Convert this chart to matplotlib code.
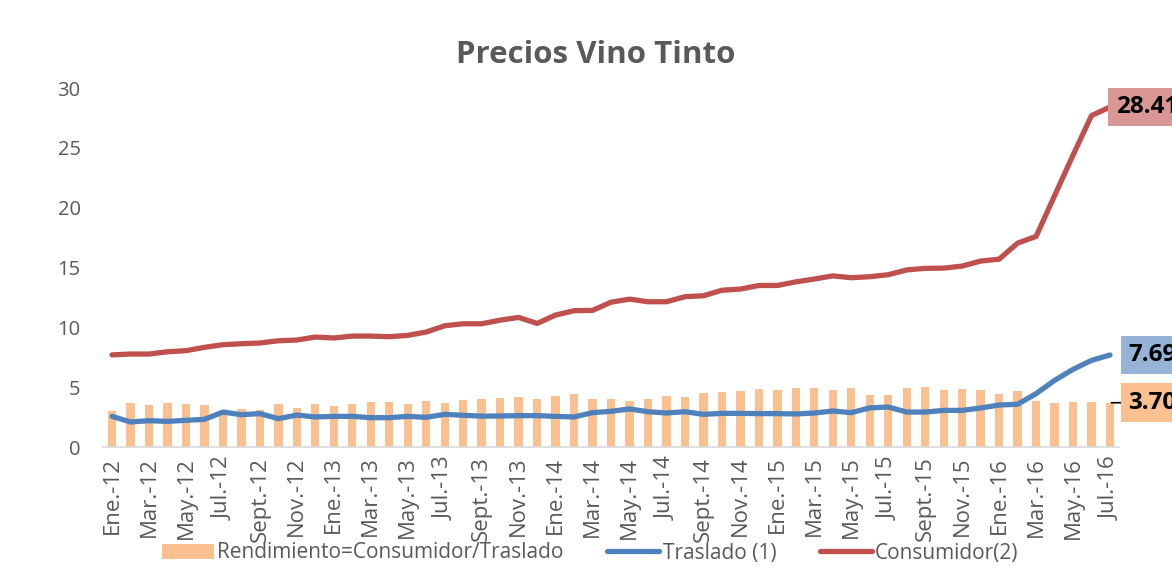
import matplotlib.pyplot as plt
import numpy as np

# monthly series Ene-12 .. Jul-16 (55 months)
traslado = [2.56, 2.09, 2.20, 2.14, 2.23, 2.31, 2.92, 2.70, 2.79, 2.37, 2.67, 2.51,
            2.56, 2.56, 2.45, 2.45, 2.56, 2.48, 2.73, 2.65, 2.58, 2.59, 2.62, 2.62,
            2.56, 2.51, 2.87, 2.98, 3.18, 2.95, 2.84, 2.95, 2.73, 2.81, 2.81, 2.79,
            2.79, 2.76, 2.84, 3.01, 2.87, 3.27, 3.34, 2.92, 2.92, 3.06, 3.06, 3.26,
            3.51, 3.57, 4.46, 5.57, 6.49, 7.24, 7.69]
consumidor = [7.70, 7.77, 7.77, 7.96, 8.05, 8.33, 8.55, 8.63, 8.69, 8.88, 8.94, 9.19,
              9.11, 9.27, 9.27, 9.22, 9.33, 9.61, 10.13, 10.30, 10.30, 10.60, 10.83, 10.33,
              11.03, 11.39, 11.42, 12.10, 12.36, 12.14, 12.14, 12.56, 12.64, 13.10, 13.20, 13.50,
              13.50, 13.80, 14.04, 14.30, 14.15, 14.23, 14.40, 14.80, 14.93, 14.95, 15.12, 15.54,
              15.70, 17.04, 17.60, 21.00, 24.40, 27.70, 28.41]
rendimiento = [2.98, 3.68, 3.48, 3.68, 3.57, 3.51, 2.93, 3.15, 3.06, 3.62, 3.29, 3.57,
               3.43, 3.57, 3.76, 3.73, 3.62, 3.84, 3.70, 3.90, 4.04, 4.12, 4.20, 3.98,
               4.29, 4.43, 3.98, 3.98, 3.87, 4.04, 4.23, 4.20, 4.48, 4.57, 4.68, 4.82,
               4.76, 4.90, 4.90, 4.79, 4.90, 4.38, 4.37, 4.96, 5.01, 4.79, 4.87, 4.74,
               4.40, 4.71, 3.84, 3.70, 3.73, 3.79, 3.70]
tick_labels = ['Ene.-12', 'Mar.-12', 'May.-12', 'Jul.-12', 'Sept.-12', 'Nov.-12',
               'Ene.-13', 'Mar.-13', 'May.-13', 'Jul.-13', 'Sept.-13', 'Nov.-13',
               'Ene.-14', 'Mar.-14', 'May.-14', 'Jul.-14', 'Sept.-14', 'Nov.-14',
               'Ene.-15', 'Mar.-15', 'May.-15', 'Jul.-15', 'Sept.-15', 'Nov.-15',
               'Ene.-16', 'Mar.-16', 'May.-16', 'Jul.-16']

plt.rcParams['font.family'] = ['Open Sans', 'DejaVu Sans']
gray = '#595959'

fig = plt.figure(figsize=(11.72, 5.87), dpi=100)
ax = fig.add_axes([0.0877, 0.2385, 0.8673, 0.6115])

x = np.arange(len(consumidor))
bars = ax.bar(x, rendimiento, width=0.45, color='#FAC090', zorder=1)
l1, = ax.plot(x, traslado, color='#4F81BD', lw=3.8, solid_capstyle='round', zorder=2)
l2, = ax.plot(x, consumidor, color='#C0504D', lw=3.8, solid_capstyle='round', zorder=3)

ax.set_xlim(-0.5, len(x) - 0.5)
ax.set_ylim(0, 30)
ax.set_yticks(range(0, 31, 5))
ax.set_xticks(x[::2])
ax.set_xticklabels(tick_labels, rotation=90, fontsize=16, color=gray)
ax.tick_params(axis='y', labelsize=14.5, labelcolor=gray, length=0, pad=16)
ax.tick_params(axis='x', length=0, pad=7)
for s in ['top', 'right', 'left']:
    ax.spines[s].set_visible(False)
ax.spines['bottom'].set_color('#D9D9D9')
ax.spines['bottom'].set_linewidth(1.2)

fig.text(0.5085, 1 - 63 / 587, 'Precios Vino Tinto', ha='center', va='baseline',
         fontsize=22.5, fontweight='bold', color=gray)

# end-point labels
last = len(x) - 1
lbl = dict(va='center', ha='left', fontsize=17.5, fontweight='bold', color='black',
           textcoords='offset points', annotation_clip=False)
ax.annotate(f'{consumidor[-1]:.2f}', xy=(last, consumidor[-1]), xytext=(4, 0),
            bbox=dict(boxstyle='square,pad=0.3', fc='#DA9694', ec='none'), **lbl)
ax.annotate(f'{traslado[-1]:.2f}', xy=(last, traslado[-1]), xytext=(13, 0),
            bbox=dict(boxstyle='square,pad=0.3', fc='#95B3D7', ec='none'), **lbl)
ax.annotate(f'{rendimiento[-1]:.2f}', xy=(last, rendimiento[-1]), xytext=(13, 0),
            bbox=dict(boxstyle='square,pad=0.3', fc='#FAC090', ec='none'),
            arrowprops=dict(arrowstyle='-', color='black', lw=1.2, shrinkA=0, shrinkB=1), **lbl)

fig.legend([bars, l1, l2], ['Rendimiento=Consumidor/Traslado', 'Traslado (1)', 'Consumidor(2)'],
           loc='center left', bbox_to_anchor=(162 / 1172, 1 - 553 / 587), ncol=3, frameon=False,
           fontsize=15, handlelength=2.5, columnspacing=2.1, handletextpad=0.15,
           borderpad=0, borderaxespad=0, labelcolor=gray)

fig.savefig('out.png', dpi=100)
